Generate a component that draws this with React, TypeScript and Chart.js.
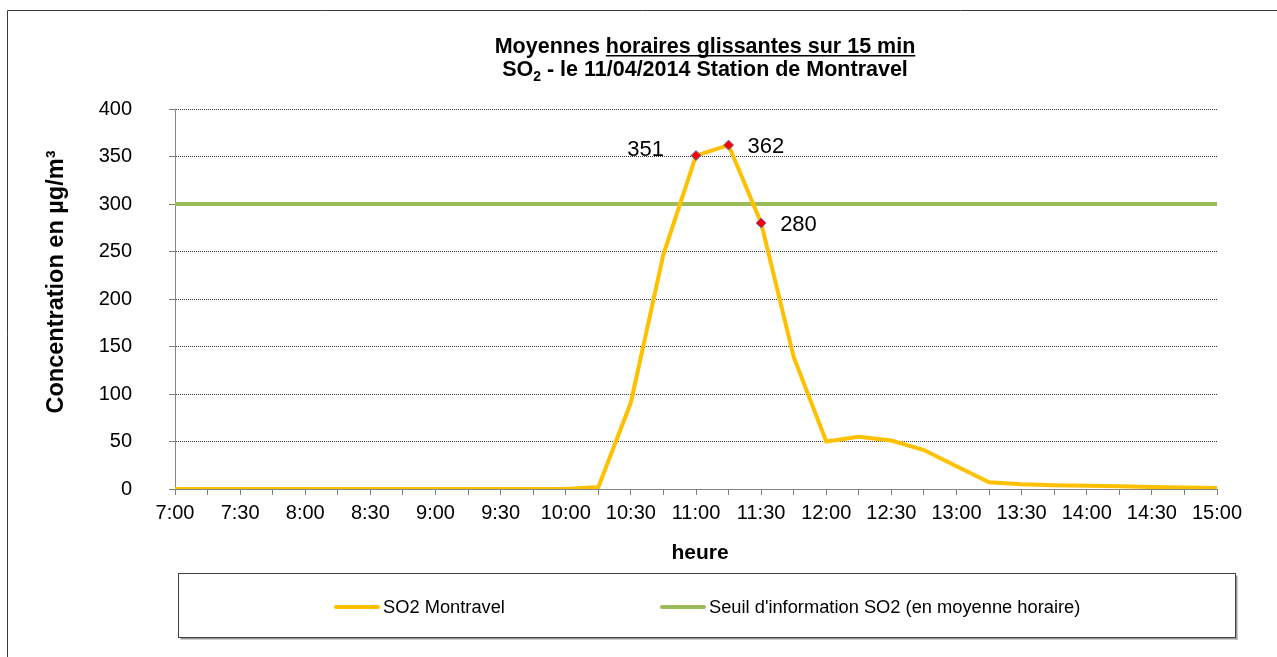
import React, { useEffect, useRef } from 'react';
import { Chart, registerables } from 'chart.js';

Chart.register(...registerables);

// ---- data ----
const timeLabels = [
  '7:00', '7:15', '7:30', '7:45', '8:00', '8:15', '8:30', '8:45',
  '9:00', '9:15', '9:30', '9:45', '10:00', '10:15', '10:30', '10:45',
  '11:00', '11:15', '11:30', '11:45', '12:00', '12:15', '12:30', '12:45',
  '13:00', '13:15', '13:30', '13:45', '14:00', '14:15', '14:30', '14:45', '15:00',
];
const so2Montravel = [
  0, 0, 0, 0, 0, 0, 0, 0,
  0, 0, 0, 0, 0, 2, 91, 247,
  351, 362, 280, 139, 50, 55, 51, 41,
  24, 7, 5, 4, 3.5, 3, 2, 1.5, 1,
];
const seuilInformation = [
  300, 300, 300, 300, 300, 300, 300, 300,
  300, 300, 300, 300, 300, 300, 300, 300,
  300, 300, 300, 300, 300, 300, 300, 300,
  300, 300, 300, 300, 300, 300, 300, 300, 300,
];
const yTickValues = [0, 50, 100, 150, 200, 250, 300, 350, 400];
const markedIndices = [16, 17, 18];
const markedLabels = ['351', '362', '280'];
const markedLabelSide = ['left', 'right', 'right'];

const seriesNames = ['SO2 Montravel', "Seuil d'information SO2 (en moyenne horaire)"];
const titleLine1a = 'Moyennes ';
const titleLine1b = 'horaires glissantes sur 15 min';
const titleLine2a = 'SO';
const titleLine2sub = '2';
const titleLine2b = ' - le 11/04/2014 Station de Montravel';
const yAxisTitle = 'Concentration en µg/m³';
const xAxisTitle = 'heure';

const FONT = '"Liberation Sans", Arial, Helvetica, sans-serif';
const YELLOW = '#FFC000';
const GREEN = '#9BBB59';

const decorPlugin = {
  id: 'decor',
  afterDraw(chart: any) {
    const ctx = chart.ctx as CanvasRenderingContext2D;
    const area = chart.chartArea;
    ctx.save();

    // outer frame (top & left visible)
    ctx.strokeStyle = '#3a3a3a';
    ctx.lineWidth = 1;
    ctx.beginPath();
    ctx.moveTo(7.5, 660);
    ctx.lineTo(7.5, 10.5);
    ctx.lineTo(1280, 10.5);
    ctx.stroke();

    // title
    const TF = `bold 21.5px ${FONT}`;
    const SF = `bold 14px ${FONT}`;
    ctx.fillStyle = '#000';
    ctx.textBaseline = 'alphabetic';
    ctx.textAlign = 'left';
    const cx = (area.left + area.right) / 2 + 9;
    ctx.font = TF;
    const wa = ctx.measureText(titleLine1a).width;
    const wb = ctx.measureText(titleLine1b).width;
    let x0 = cx - (wa + wb) / 2;
    const y1 = 53;
    ctx.fillText(titleLine1a, x0, y1);
    ctx.fillText(titleLine1b, x0 + wa, y1);
    ctx.fillRect(x0 + wa, y1 + 2, wb, 1.5);

    const y2 = 76;
    const w2a = ctx.measureText(titleLine2a).width;
    const w2b = ctx.measureText(titleLine2b).width;
    ctx.font = SF;
    const wsub = ctx.measureText(titleLine2sub).width;
    x0 = cx - (w2a + wsub + w2b) / 2;
    ctx.font = TF;
    ctx.fillText(titleLine2a, x0, y2);
    ctx.font = SF;
    ctx.fillText(titleLine2sub, x0 + w2a, y2 + 5);
    ctx.font = TF;
    ctx.fillText(titleLine2b, x0 + w2a + wsub, y2);

    // y axis title
    ctx.save();
    ctx.translate(63, (area.top + area.bottom) / 2 - 17);
    ctx.rotate(-Math.PI / 2);
    ctx.textAlign = 'center';
    ctx.font = `bold 23.5px ${FONT}`;
    ctx.fillText(yAxisTitle, 0, 0);
    ctx.restore();

    // x axis title
    ctx.textAlign = 'center';
    ctx.font = `bold 21px ${FONT}`;
    ctx.fillText(xAxisTitle, (area.left + area.right) / 2 + 4, 559);

    // point labels
    const meta = chart.getDatasetMeta(0);
    ctx.font = `22px ${FONT}`;
    ctx.textBaseline = 'middle';
    markedIndices.forEach((idx, i) => {
      const pt = meta.data[idx];
      if (!pt) return;
      if (markedLabelSide[i] === 'left') {
        ctx.textAlign = 'right';
        ctx.fillText(markedLabels[i], pt.x - 32, pt.y - 6);
      } else {
        ctx.textAlign = 'left';
        ctx.fillText(markedLabels[i], pt.x + 19, pt.y + 2);
      }
    });

    // legend box
    const lx = 178.5, ly = 573.5, lw = 1057, lh = 64;
    ctx.fillStyle = '#9a9a9a';
    ctx.fillRect(lx + 2, ly + lh, lw, 2);
    ctx.fillRect(lx + lw, ly + 2, 2, lh);
    ctx.fillStyle = '#fff';
    ctx.fillRect(lx, ly, lw, lh);
    ctx.strokeStyle = '#404040';
    ctx.lineWidth = 1;
    ctx.strokeRect(lx, ly, lw, lh);

    const legY = 607;
    const items = [
      { color: YELLOW, x: 334, text: seriesNames[0] },
      { color: GREEN, x: 660, text: seriesNames[1] },
    ];
    ctx.lineCap = 'round';
    items.forEach((it) => {
      ctx.strokeStyle = it.color;
      ctx.lineWidth = 4;
      ctx.beginPath();
      ctx.moveTo(it.x + 2, legY);
      ctx.lineTo(it.x + 44, legY);
      ctx.stroke();
      ctx.fillStyle = '#000';
      ctx.textAlign = 'left';
      ctx.textBaseline = 'middle';
      ctx.font = `18.3px ${FONT}`;
      ctx.fillText(it.text, it.x + 49, legY + 1);
    });

    ctx.restore();
  },
};

export default function App() {
  const ref = useRef<HTMLCanvasElement | null>(null);

  useEffect(() => {
    if (!ref.current) return;
    const chart = new Chart(ref.current, {
      type: 'line',
      data: {
        labels: timeLabels,
        datasets: [
          {
            label: seriesNames[0],
            data: so2Montravel,
            borderColor: YELLOW,
            backgroundColor: '#FF0000',
            borderWidth: 4,
            tension: 0,
            pointStyle: 'rectRot',
            pointRadius: (c: any) => (markedIndices.includes(c.dataIndex) ? 5 : 0),
            pointBackgroundColor: '#FF0000',
            pointBorderColor: '#4F81BD',
            pointBorderWidth: 1,
            pointHoverRadius: 0,
          },
          {
            label: seriesNames[1],
            data: seuilInformation,
            borderColor: GREEN,
            borderWidth: 4,
            tension: 0,
            pointRadius: 0,
            pointHoverRadius: 0,
          },
        ],
      },
      options: {
        animation: false,
        responsive: false,
        maintainAspectRatio: false,
        events: [],
        layout: {
          autoPadding: false,
          padding: { top: 109, right: 60, bottom: 118, left: 0 },
        },
        plugins: {
          legend: { display: false },
          title: { display: false },
          tooltip: { enabled: false },
        },
        scales: {
          x: {
            type: 'category',
            offset: false,
            afterFit: (s: any) => { s.height = 50; },
            grid: {
              display: true,
              drawOnChartArea: false,
              drawTicks: true,
              tickLength: 6,
              tickColor: '#7f7f7f',
              tickWidth: 1,
            },
            border: { display: true, color: '#868686', width: 1 },
            ticks: {
              autoSkip: false,
              maxRotation: 0,
              minRotation: 0,
              padding: 6,
              color: '#000',
              font: { family: FONT, size: 20 },
              callback: (_v: any, i: number) => (i % 2 === 0 ? timeLabels[i] : ''),
            },
          },
          y: {
            min: 0,
            max: 400,
            afterFit: (s: any) => { s.width = 175; },
            afterBuildTicks: (s: any) => { s.ticks = yTickValues.map((v) => ({ value: v })); },
            grid: {
              display: true,
              color: '#3c3c3c',
              lineWidth: 1,
              drawTicks: true,
              tickLength: 6,
              tickColor: '#7f7f7f',
              tickBorderDash: [],
            },
            border: { display: true, color: '#868686', width: 1, dash: [1, 1] },
            ticks: {
              padding: 37,
              color: '#000',
              font: { family: FONT, size: 20 },
            },
          },
        },
      } as any,
      plugins: [decorPlugin],
    });
    return () => chart.destroy();
  }, []);

  return (
    <div style={{ position: 'absolute', left: 0, top: 0, width: 1277, height: 657, background: '#fff' }}>
      <canvas ref={ref} width={1277} height={657} style={{ display: 'block', width: 1277, height: 657 }} />
    </div>
  );
}
